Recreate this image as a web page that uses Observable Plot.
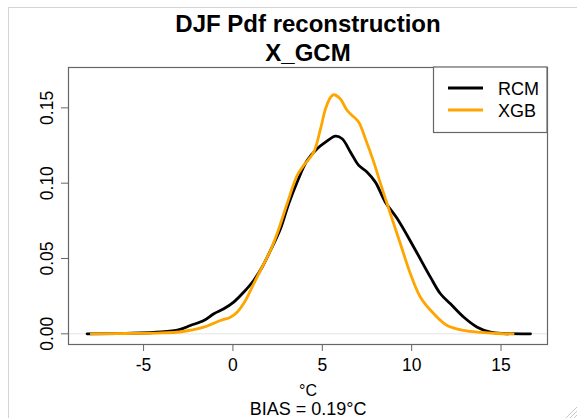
<!DOCTYPE html>
<html><head><meta charset="utf-8">
<script src="https://cdn.jsdelivr.net/npm/d3@7"></script>
<script src="https://cdn.jsdelivr.net/npm/@observablehq/plot@0.6"></script>
<style>
body{margin:0;background:#fff;}
#wrap{position:relative;width:577px;height:418px;overflow:hidden;font-family:"Liberation Sans",Arial,sans-serif;}
#edge{position:absolute;left:8px;top:7px;width:600px;height:500px;border-left:1px solid #d4d4d4;border-top:1px solid #d4d4d4;}
#chart{position:absolute;left:0;top:0;}
</style></head><body>
<div id="wrap"><div id="edge"></div><div id="chart"></div></div>
<script>
const titleLines = ["DJF Pdf reconstruction", "X_GCM"];
const xLabel = "°C";
const biasText = "BIAS = 0.19°C";
const seriesNames = ["RCM", "XGB"];
const seriesColors = ["#000000", "#FFA500"];
const xTicks = [-5, 0, 5, 10, 15];
const yTicks = [0, 0.05, 0.10, 0.15];

const rcmX = [-8.16, -6, -4, -3, -2.38, -1.63, -1.07, -0.51, 0.04, 0.6, 1.16, 1.63, 2.1, 2.66, 3.12, 3.59, 4.15, 4.71, 5.18, 5.74, 6.11, 6.58, 7.04, 7.51, 7.97, 8.53, 9.19, 10.12, 11.05, 11.61, 12.17, 12.92, 13.67, 14.41, 15.14, 16.65];
const rcmY = [0.0000, 0.0003, 0.0012, 0.0028, 0.0055, 0.0088, 0.0133, 0.0166, 0.0210, 0.0276, 0.0354, 0.0442, 0.0553, 0.0697, 0.0863, 0.1007, 0.1150, 0.1228, 0.1272, 0.1312, 0.1295, 0.1206, 0.1118, 0.1073, 0.1007, 0.0874, 0.0765, 0.0575, 0.0376, 0.0266, 0.0199, 0.0110, 0.0044, 0.0011, 0.0002, 0.0000];

const xgbX = [-7.93, -6, -4, -3, -1.63, -0.7, -0.14, 0.23, 0.7, 1.16, 1.63, 2.1, 2.47, 3.03, 3.59, 3.96, 4.52, 4.9, 5.18, 5.46, 5.64, 6.0, 6.39, 6.67, 7.04, 7.41, 7.88, 8.25, 8.81, 9.37, 9.93, 10.49, 11.24, 11.99, 12.92, 13.85, 14.8, 15.68];
const xgbY = [0.0000, 0.0002, 0.0006, 0.0012, 0.0044, 0.0088, 0.0110, 0.0143, 0.0221, 0.0332, 0.0442, 0.0553, 0.0664, 0.0863, 0.1051, 0.1118, 0.1206, 0.1361, 0.1494, 0.1570, 0.1587, 0.1560, 0.1483, 0.1450, 0.1405, 0.1295, 0.1140, 0.1000, 0.0797, 0.0598, 0.0398, 0.0243, 0.0133, 0.0055, 0.0022, 0.0009, 0.0002, 0.0000];

const rcm = rcmX.map((x, i) => ({x, y: rcmY[i]}));
const xgb = xgbX.map((x, i) => ({x, y: xgbY[i]}));
const font = '"Liberation Sans", Arial, sans-serif';

const plot = Plot.plot({
  width: 577, height: 418,
  marginLeft: 68, marginRight: 30, marginTop: 67, marginBottom: 74,
  style: {background: "transparent", fontFamily: font, overflow: "visible", color: "#000"},
  x: {domain: [-9.2, 17.6]},
  y: {domain: [-0.0071, 0.1768]},
  marks: [
    Plot.ruleY([0], {stroke: "#e4e4e4", strokeWidth: 1}),
    Plot.line(rcm, {x: "x", y: "y", stroke: seriesColors[0], strokeWidth: 2.8, curve: "catmull-rom"}),
    Plot.line(xgb, {x: "x", y: "y", stroke: seriesColors[1], strokeWidth: 2.8, curve: "catmull-rom"}),
    Plot.frame({stroke: "#666", strokeWidth: 1.2}),
    Plot.axisX(xTicks, {tickSize: 7, tickPadding: 7, fontSize: 17.5, stroke: "#666", fill: "#000", tickFormat: d => String(d), label: null}),
    Plot.axisY(yTicks, {tickSize: 7, stroke: "#666", fill: "none", label: null}),
    Plot.text(yTicks, {y: d => d, text: d => d3.format(".2f")(d), frameAnchor: "left", dx: -16, rotate: -90, textAnchor: "middle", lineAnchor: "bottom", fontSize: 17.5, fill: "#000"}),
    Plot.text([titleLines[0]], {text: d => d, frameAnchor: "top", dy: -36, lineAnchor: "bottom", fontSize: 24, fontWeight: "bold", fill: "#000"}),
    Plot.text([titleLines[1]], {text: d => d, frameAnchor: "top", dy: -7, lineAnchor: "bottom", fontSize: 24, fontWeight: "bold", fill: "#000"}),
    Plot.text([xLabel], {text: d => d, frameAnchor: "bottom", dy: 51, lineAnchor: "bottom", fontSize: 16, fill: "#000"}),
    Plot.text([biasText], {text: d => d, frameAnchor: "bottom", dy: 70, lineAnchor: "bottom", fontSize: 18, fill: "#000"})
  ]
});
document.getElementById("chart").appendChild(plot);

// legend (top-right, inside the plot box)
const svg = d3.select(plot);
const lg = svg.append("g").attr("font-family", font).attr("text-anchor", "start");
lg.append("rect").attr("x", 433.5).attr("y", 67).attr("width", 113.5).attr("height", 65.5)
  .attr("fill", "#fff").attr("stroke", "#666").attr("stroke-width", 1.2);
seriesNames.forEach((name, i) => {
  const yy = 88 + i * 22;
  lg.append("line").attr("x1", 448).attr("x2", 483).attr("y1", yy).attr("y2", yy)
    .attr("stroke", seriesColors[i]).attr("stroke-width", 3);
  lg.append("text").attr("x", 498).attr("y", yy + 6.5).attr("font-size", 18)
    .attr("text-anchor", "start").attr("fill", "#000").text(name);
});
// window resize grip
const grip = svg.append("g").attr("stroke", "#c8c8c8").attr("stroke-width", 1);
[[566, 418, 577, 407], [570, 418, 577, 411], [574, 418, 577, 415]].forEach(([a, b, c, d]) =>
  grip.append("line").attr("x1", a).attr("y1", b).attr("x2", c).attr("y2", d));
</script>
</body></html>
